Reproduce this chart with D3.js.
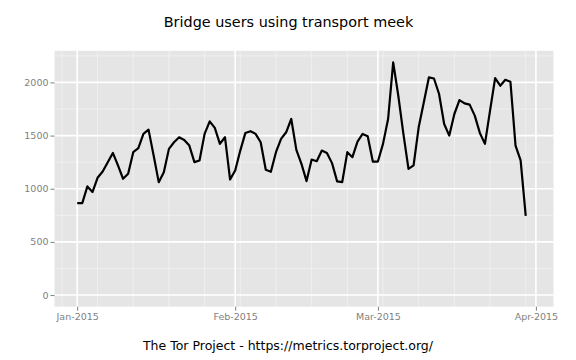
<!DOCTYPE html>
<html>
<head>
<meta charset="utf-8">
<script src="https://cdn.jsdelivr.net/npm/d3@7"></script>
<style>
  html, body { margin: 0; padding: 0; background: #fff; }
  svg { display: block; font-family: "DejaVu Sans", sans-serif; }
</style>
</head>
<body>
<svg id="chart" width="576" height="360"></svg>
<script>
// ---- Data ----
const title = "Bridge users using transport meek";
const caption = "The Tor Project - https://metrics.torproject.org/";
const startDate = "2015-01-01";      // first day of the series (daily values)
const endDate = "2015-03-31";        // last day covered by the x range
const users = [
  865, 865, 1022, 969, 1103, 1162, 1250, 1337, 1219, 1094,
  1141, 1344, 1381, 1516, 1556, 1312, 1062, 1156, 1375, 1437,
  1484, 1459, 1406, 1250, 1266, 1516, 1634, 1572, 1422, 1484,
  1087, 1172, 1359, 1525, 1541, 1516, 1437, 1178, 1159, 1344,
  1469, 1531, 1656, 1366, 1234, 1072, 1275, 1259, 1359, 1337,
  1241, 1069, 1062, 1344, 1297, 1444, 1516, 1494, 1256, 1256,
  1422, 1656, 2188, 1875, 1516, 1187, 1219, 1578, 1812, 2047,
  2037, 1891, 1609, 1500, 1703, 1834, 1803, 1791, 1688, 1525,
  1422, 1734, 2041, 1969, 2025, 2006, 1406, 1266, 744
];
const yTicks = [0, 500, 1000, 1500, 2000];
const yMinor = [250, 750, 1250, 1750, 2250];

// ---- Layout ----
const W = 576, H = 360;
const panel = { left: 54.5, right: 553.5, top: 50.8, bottom: 306.7 };

const parse = d3.utcParse("%Y-%m-%d");
const t0 = parse(startDate);
const tEnd = parse(endDate);
const data = users.map((v, i) => ({ date: d3.utcDay.offset(t0, i), value: v }));

const xSpan = tEnd - t0;
const xExp = xSpan * 0.05;
const x = d3.scaleUtc()
  .domain([new Date(+t0 - xExp), new Date(+tEnd + xExp)])
  .range([panel.left, panel.right]);

const yMax = d3.max(users);
const yExp = yMax * 0.05;
const y = d3.scaleLinear()
  .domain([-yExp, yMax + yExp])
  .range([panel.bottom, panel.top]);

const svg = d3.select("#chart");
svg.append("rect").attr("width", W).attr("height", H).attr("fill", "#fff");

// panel background
svg.append("rect")
  .attr("x", panel.left).attr("y", panel.top)
  .attr("width", panel.right - panel.left)
  .attr("height", panel.bottom - panel.top)
  .attr("fill", "#E5E5E5");

const grid = svg.append("g");
// minor grid
const xMinor = d3.utcMonday.range(x.domain()[0], x.domain()[1]);
grid.selectAll(".xmin").data(xMinor).enter().append("line")
  .attr("x1", d => x(d)).attr("x2", d => x(d))
  .attr("y1", panel.top).attr("y2", panel.bottom)
  .attr("stroke", "#F2F2F2").attr("stroke-width", 0.8);
grid.selectAll(".ymin").data(yMinor.filter(v => y(v) >= panel.top)).enter().append("line")
  .attr("x1", panel.left).attr("x2", panel.right)
  .attr("y1", d => y(d)).attr("y2", d => y(d))
  .attr("stroke", "#F2F2F2").attr("stroke-width", 0.8);
// major grid
const xMajor = d3.utcMonth.range(x.domain()[0], x.domain()[1]);
grid.selectAll(".xmaj").data(xMajor).enter().append("line")
  .attr("x1", d => x(d)).attr("x2", d => x(d))
  .attr("y1", panel.top).attr("y2", panel.bottom)
  .attr("stroke", "#FFFFFF").attr("stroke-width", 1.6);
grid.selectAll(".ymaj").data(yTicks).enter().append("line")
  .attr("x1", panel.left).attr("x2", panel.right)
  .attr("y1", d => y(d)).attr("y2", d => y(d))
  .attr("stroke", "#FFFFFF").attr("stroke-width", 1.6);

// line
const line = d3.line().x(d => x(d.date)).y(d => y(d.value));
svg.append("path").datum(data)
  .attr("d", line)
  .attr("fill", "none")
  .attr("stroke", "#000")
  .attr("stroke-width", 2.2)
  .attr("stroke-linejoin", "round");

// axes
const yAxis = svg.append("g")
  .attr("transform", `translate(${panel.left},0)`)
  .call(d3.axisLeft(y).tickValues(yTicks).tickSize(4).tickPadding(2).tickFormat(d3.format("d")));
const xAxis = svg.append("g")
  .attr("transform", `translate(0,${panel.bottom})`)
  .call(d3.axisBottom(x).tickValues(xMajor).tickSize(4).tickPadding(3).tickFormat(d3.utcFormat("%b-%Y")));
[yAxis, xAxis].forEach(g => {
  g.select(".domain").remove();
  g.selectAll(".tick line").attr("stroke", "#7F7F7F").attr("stroke-width", 1);
  g.selectAll(".tick text").attr("fill", "#7F7F7F")
    .style("font-family", "'DejaVu Sans', sans-serif").style("font-size", "9.5px");
});

// title and caption
svg.append("text")
  .attr("x", 288.5).attr("y", 27)
  .attr("text-anchor", "middle")
  .style("font-size", "14.4px").attr("fill", "#000")
  .text(title);
svg.append("text")
  .attr("x", 288).attr("y", 350)
  .attr("text-anchor", "middle")
  .style("font-size", "12.5px").attr("fill", "#000")
  .text(caption);
</script>
</body>
</html>
